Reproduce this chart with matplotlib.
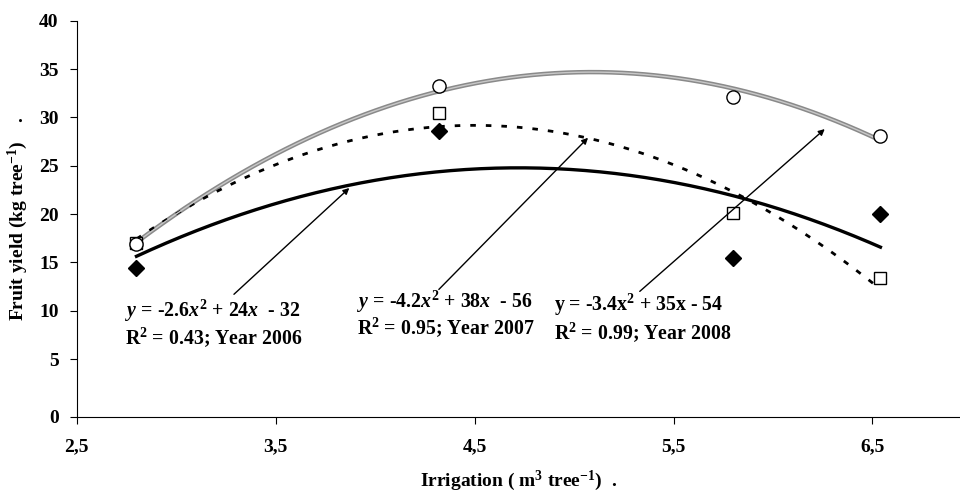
import numpy as np
import matplotlib
matplotlib.use("Agg")
import matplotlib.pyplot as plt

# data
irrigation = [2.8, 4.32, 5.8, 6.54]
yield_2006 = [14.4, 28.6, 15.5, 20.0]
yield_2007 = [17.0, 30.5, 20.1, 13.4]
yield_2008 = [16.9, 33.3, 32.1, 28.1]

x_ticks = [2.5, 3.5, 4.5, 5.5, 6.5]
x_tick_labels = ["2,5", "3,5", "4,5", "5,5", "6,5"]
y_ticks = [0, 5, 10, 15, 20, 25, 30, 35, 40]

eq_2006 = r"$\mathit{y}$ = -2.6$\mathit{x}^{2}$ + 24$\mathit{x}$  - 32"
eq_2007 = r"$\mathit{y}$ = -4.2$\mathit{x}^{2}$ + 38$\mathit{x}$  - 56"
eq_2008 = r"y = -3.4x$^{2}$ + 35x - 54"
r2_2006 = r"R$^{2}$ = 0.43; Year 2006"
r2_2007 = r"R$^{2}$ = 0.95; Year 2007"
r2_2008 = r"R$^{2}$ = 0.99; Year 2008"

plt.rcParams['font.family'] = ['Liberation Serif', 'DejaVu Serif']
plt.rcParams['font.weight'] = 'bold'
plt.rcParams['axes.labelweight'] = 'bold'
plt.rcParams['mathtext.fontset'] = 'custom'
plt.rcParams['mathtext.default'] = 'regular'
plt.rcParams['mathtext.rm'] = 'Liberation Serif:bold'
plt.rcParams['mathtext.it'] = 'Liberation Serif:italic:bold'
plt.rcParams['mathtext.bf'] = 'Liberation Serif:bold'


def trend(x, y):
    # second order trend line, like the spreadsheet did
    coef = np.polyfit(x, y, 2)
    xs = np.linspace(min(x), max(x), 200)
    return xs, np.polyval(coef, xs)


fig = plt.figure(figsize=(9.6, 4.97), dpi=100)
ax = fig.add_axes([0.080, 0.161, 0.92, 0.797])

# trend lines
xs, ys = trend(irrigation, yield_2008)
ax.plot(xs, ys, color='#8a8a8a', lw=3.2, zorder=2, solid_capstyle='butt')
ax.plot(xs, ys, color='#c8c8c8', lw=1.0, zorder=2.1)
xs, ys = trend(irrigation, yield_2007)
ax.plot(xs, ys, color='black', lw=2.0, ls=(0, (2.0, 3.6)), zorder=2)
xs, ys = trend(irrigation, yield_2006)
ax.plot(xs, ys, color='black', lw=2.4, zorder=2)

# observed points
ax.plot(irrigation, yield_2007, 's', ms=8, mfc='white', mec='black', mew=1.0,
        ls='none', zorder=3)
ax.plot(irrigation, yield_2008, 'o', ms=9.5, mfc='white', mec='black', mew=1.0,
        ls='none', zorder=4)
ax.plot(irrigation, yield_2006, 'D', ms=8.5, mfc='black', mec='black',
        ls='none', zorder=4)

# equations
fs = 14.3
ax.text(2.74, 10.0, eq_2006, fontsize=fs, va='center', ha='left')
ax.text(2.74, 7.2, r2_2006, fontsize=fs, va='center', ha='left')
ax.text(3.91, 10.9, eq_2007, fontsize=fs, va='center', ha='left')
ax.text(3.91, 8.2, r2_2007, fontsize=fs, va='center', ha='left')
ax.text(4.90, 10.6, eq_2008, fontsize=fs, va='center', ha='left')
ax.text(4.90, 7.7, r2_2008, fontsize=fs, va='center', ha='left')

arrow = dict(arrowstyle='-|>', color='black', lw=1.0, mutation_scale=9,
             shrinkA=0, shrinkB=0)
ax.annotate('', xy=(3.87, 22.7), xytext=(3.29, 11.7), arrowprops=arrow)
ax.annotate('', xy=(5.07, 27.9), xytext=(4.32, 12.2), arrowprops=arrow)
ax.annotate('', xy=(6.26, 28.8), xytext=(5.33, 12.0), arrowprops=arrow)

# axes (y axis is broken below 5, the 0 sits at the bottom)
ax.set_xlim(2.5, 6.94)
ax.set_ylim(-1, 40)
ax.set_xticks(x_ticks)
ax.set_xticklabels(x_tick_labels)
ax.set_yticks([-1] + y_ticks[1:])
ax.set_yticklabels([str(v) for v in y_ticks])
ax.tick_params(axis='both', direction='out', length=5, width=0.8,
               labelsize=14, colors='black')
ax.tick_params(axis='x', pad=10)
ax.tick_params(axis='y', pad=8)
for side in ['top', 'right']:
    ax.spines[side].set_visible(False)
for side in ['left', 'bottom']:
    ax.spines[side].set_linewidth(0.8)

ax.set_ylabel(r"Fruit yield (kg tree$^{-1}$)    .", fontsize=14)
ax.yaxis.set_label_coords(-0.053, 0.5)
ax.set_xlabel(r"Irrigation ( m$^{3}$ tree$^{-1}$)  .", fontsize=14, va='center')
ax.xaxis.set_label_coords(0.5, -0.16)

fig.savefig("out.png", dpi=100)
